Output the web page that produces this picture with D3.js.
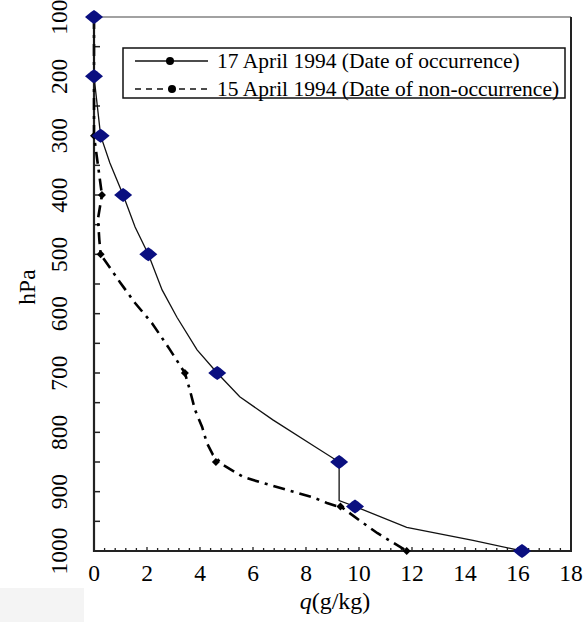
<!DOCTYPE html>
<html>
<head>
<meta charset="utf-8">
<script src="https://cdn.jsdelivr.net/npm/d3@7"></script>
<style>
  body { margin: 0; background: #fff; }
  svg { display: block; }
  svg text { font-family: "Liberation Serif", "Times New Roman", "DejaVu Serif", serif; fill: #000; }
</style>
</head>
<body>
<svg id="chart" width="587" height="622"></svg>
<script>
// Specific humidity profiles (q in g/kg against pressure in hPa)
const occurQ = [0, 0, 0.25, 0.6, 1.1, 1.55, 2.05, 2.57, 3.13, 3.89, 4.65, 5.5, 6.75, 8.4, 9.25, 9.25, 9.85, 11.8, 14.3, 16.15];
const occurP = [100, 200, 300, 346, 400, 454, 500, 560, 606, 661, 700, 740, 779, 826, 850, 915, 925, 960, 982, 1000];

const nonQ = [0, 0, 0, 0.15, 0.3, 0.15, 0.2, 0.25, 0.98, 1.55, 2.19, 2.87, 3.43, 3.62, 3.81, 4.08, 4.26, 4.49, 4.87, 5.62, 6.34, 7.28, 8.23, 8.79, 9.4, 10.1, 10.7, 11.8];
const nonP = [100, 200, 300, 350, 400, 440, 475, 500, 547, 582, 616, 661, 700, 729, 762, 791, 818, 838, 855, 875, 885, 897, 909, 919, 928, 951, 970, 1000];

// standard levels that carry a marker
const levels = [100, 200, 300, 400, 500, 700, 850, 925, 1000];
const occurLevelQ = [0, 0, 0.25, 1.1, 2.05, 4.65, 9.25, 9.85, 16.15];
const nonLevelQ = [0, 0, 0, 0.3, 0.25, 3.43, 4.6, 9.3, 11.8];

const xTicks = [0, 2, 4, 6, 8, 10, 12, 14, 16, 18];
const yTicks = [100, 200, 300, 400, 500, 600, 700, 800, 900, 1000];
const legendLabels = ["17 April 1994 (Date of occurrence)", "15 April 1994 (Date of non-occurrence)"];

const svg = d3.select("#chart");
const mLeft = 94, mRight = 571, mTop = 17, mBottom = 551;

const x = d3.scaleLinear().domain([0, 18]).range([mLeft, mRight]);
const y = d3.scaleLinear().domain([100, 1000]).range([mTop, mBottom]);

// faint grey patch in the bottom-left corner of the scan
svg.append("rect").attr("x", 0).attr("y", 588).attr("width", 84).attr("height", 34).attr("fill", "#f4f4f4");

// frame
svg.append("line").attr("x1", mLeft).attr("x2", mRight).attr("y1", mTop).attr("y2", mTop)
  .attr("stroke", "#444").attr("stroke-width", 1.2);
svg.append("line").attr("x1", mRight).attr("x2", mRight).attr("y1", mTop).attr("y2", mBottom)
  .attr("stroke", "#222").attr("stroke-width", 2);

// minor ticks on x (inside), every 0.4
const xMinor = d3.range(0, 18.01, 0.4);
svg.append("g").selectAll("line").data(xMinor).enter().append("line")
  .attr("x1", d => x(d)).attr("x2", d => x(d))
  .attr("y1", mBottom).attr("y2", d => mBottom - (Math.abs(d / 2 - Math.round(d / 2)) < 0.01 ? 4 : 3))
  .attr("stroke", "#222").attr("stroke-width", 1.3);

// ticks on y (inside), every 50 hPa
const yMinor = d3.range(100, 1001, 50);
svg.append("g").selectAll("line").data(yMinor).enter().append("line")
  .attr("x1", mLeft).attr("x2", mLeft + 6)
  .attr("y1", d => y(d)).attr("y2", d => y(d))
  .attr("stroke", "#222").attr("stroke-width", 1.5);

// axis lines
svg.append("line").attr("x1", mLeft).attr("x2", mLeft).attr("y1", mTop).attr("y2", mBottom + 1)
  .attr("stroke", "#222").attr("stroke-width", 2.2);
svg.append("line").attr("x1", mLeft).attr("x2", mRight + 1).attr("y1", mBottom).attr("y2", mBottom)
  .attr("stroke", "#222").attr("stroke-width", 2.2);

// tick labels
svg.append("g").selectAll("text").data(xTicks).enter().append("text")
  .attr("x", d => x(d)).attr("y", 581)
  .attr("text-anchor", "middle").attr("font-size", 23.5)
  .text(d => d);

svg.append("g").selectAll("text").data(yTicks).enter().append("text")
  .attr("transform", d => `translate(59,${y(d)}) rotate(-90)`)
  .attr("dy", "0.35em")
  .attr("text-anchor", "middle").attr("font-size", 23.5)
  .text(d => d);

// axis titles
svg.append("text").attr("transform", "translate(27,287) rotate(-90)")
  .attr("dy", "0.35em").attr("text-anchor", "middle").attr("font-size", 23.5)
  .text("hPa");

const xt = svg.append("text").attr("x", 335).attr("y", 609)
  .attr("text-anchor", "middle").attr("font-size", 24);
xt.append("tspan").attr("font-style", "italic").text("q");
xt.append("tspan").text("(g/kg)");

// profiles
const line = d3.line().x(d => x(d[0])).y(d => y(d[1]));

svg.append("path").datum(nonQ.map((q, i) => [q, nonP[i]]))
  .attr("d", line).attr("fill", "none").attr("stroke", "#000")
  .attr("stroke-width", 2.6).attr("stroke-dasharray", "12,6,3,6");

svg.append("path").datum(occurQ.map((q, i) => [q, occurP[i]]))
  .attr("d", line).attr("fill", "none").attr("stroke", "#111")
  .attr("stroke-width", 1.3);

// markers
const blackDiamond = "M-4,0L0,-4L4,0L0,4Z";
svg.append("g").selectAll("path").data(levels).enter().append("path")
  .attr("transform", (d, i) => `translate(${x(nonLevelQ[i])},${y(d)})`)
  .attr("d", blackDiamond).attr("fill", "#000");

const blueDiamond = "M-9,0L-3,-5L0,-7L3,-5L9,0L3,5L0,7L-3,5Z";
svg.append("g").selectAll("path").data(levels).enter().append("path")
  .attr("transform", (d, i) => `translate(${x(occurLevelQ[i])},${y(d)})`)
  .attr("d", blueDiamond).attr("fill", "#0a0f80");

// legend
const lg = svg.append("g");
lg.append("rect").attr("x", 123).attr("y", 48).attr("width", 442).attr("height", 50)
  .attr("fill", "#fff").attr("stroke", "#111").attr("stroke-width", 1.5);

const rows = [
  { y: 61, dash: null, label: legendLabels[0], dot: 170 },
  { y: 89, dash: "6,5", label: legendLabels[1], dot: 172 }
];
rows.forEach(r => {
  lg.append("line").attr("x1", 135).attr("x2", 208).attr("y1", r.y).attr("y2", r.y)
    .attr("stroke", "#111").attr("stroke-width", 1.4)
    .attr("stroke-dasharray", r.dash);
  lg.append("circle").attr("cx", r.dot).attr("cy", r.y).attr("r", 4).attr("fill", "#000");
  lg.append("text").attr("x", 217).attr("y", r.y + 7).attr("font-size", 21.5)
    .text(r.label);
});
</script>
</body>
</html>
